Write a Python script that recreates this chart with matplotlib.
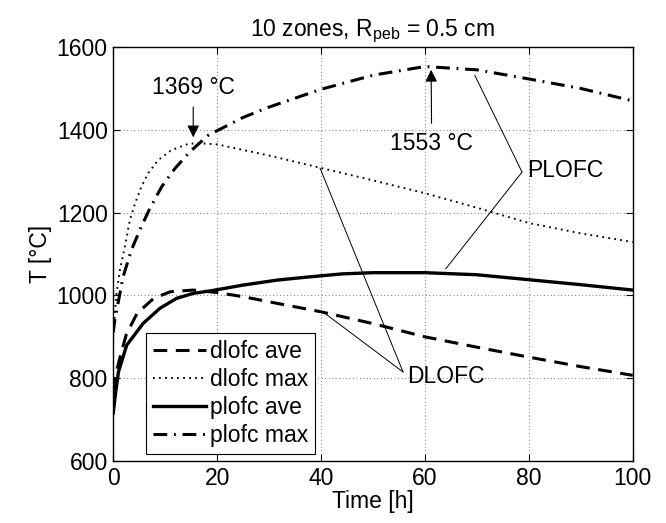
import numpy as np
import matplotlib
matplotlib.use("Agg")
import matplotlib.pyplot as plt

plt.rcParams['font.family'] = ['Liberation Sans', 'DejaVu Sans']
plt.rcParams['mathtext.fontset'] = 'custom'
plt.rcParams['mathtext.rm'] = 'Liberation Sans'
plt.rcParams['font.size'] = 16.5

# dlofc ave (dashed)
t_dave = [0, 0.5, 1.3, 2.5, 4.6, 7.8, 11, 15.4, 20, 25, 31.5, 39.8, 50, 60, 70, 80, 90, 100]
T_dave = [770, 810, 850, 905, 957, 993, 1009, 1013, 1007, 997, 981, 961, 932, 900, 875, 851, 828, 807]

# dlofc max (dotted)
t_dmax = [0, 0.3, 0.64, 1.28, 2.24, 3.2, 4.2, 5.4, 6.7, 8.65, 11.2, 14.4, 16.3, 20, 30, 40, 50, 60, 70, 80, 90, 100]
T_dmax = [900, 955, 1005, 1061, 1118, 1182, 1222, 1262, 1295, 1327, 1351, 1366, 1368, 1365, 1338, 1308, 1278, 1247, 1212, 1175, 1150, 1129]

# plofc ave (solid)
t_pave = [0, 0.45, 1, 2.6, 5.8, 9, 12.2, 15.4, 18.7, 25, 31.5, 37.9, 44, 50, 60, 70, 80, 90, 100]
T_pave = [716, 764, 815, 880, 933, 969, 993, 1005, 1011, 1025, 1037, 1045, 1052, 1055, 1055, 1050, 1038, 1026, 1013]

# plofc max (dash-dot)
t_pmax = [0, 0.3, 1.9, 3.5, 5.4, 7.05, 9.3, 11.9, 14.75, 18.3, 25, 30, 40, 50, 60, 70, 80, 90, 100]
T_pmax = [910, 940, 1045, 1110, 1166, 1210, 1262, 1307, 1347, 1387, 1430, 1455, 1498, 1532, 1553, 1545, 1523, 1500, 1470]

fig = plt.figure(figsize=(6.66, 5.23), dpi=100)
ax = fig.add_axes([0.170, 0.1185, 0.780, 0.7915])

ax.plot(t_dave, T_dave, color='k', lw=2.2, dashes=(4.5, 2.8), label='dlofc ave')
ax.plot(t_dmax, T_dmax, color='k', lw=1.4, dashes=(0.9, 2.2), label='dlofc max')
ax.plot(t_pave, T_pave, color='k', lw=2.4, label='plofc ave')
ax.plot(t_pmax, T_pmax, color='k', lw=2.2, dashes=(4.5, 2.2, 0.6, 2.2), label='plofc max')

ax.set_xlim(0, 100)
ax.set_ylim(600, 1600)
ax.set_xticks([0, 20, 40, 60, 80, 100])
ax.set_yticks([600, 800, 1000, 1200, 1400, 1600])
ax.grid(True, color='k', lw=0.5, linestyle=(0, (1, 4)))
ax.tick_params(direction='in', top=True, right=True, length=5, width=0.8, pad=4)
for s in ax.spines.values():
    s.set_linewidth(1.0)

ax.set_xlabel('Time [h]', labelpad=0)
ax.set_ylabel('T [°C]', labelpad=3)
ax.set_title('10 zones, R$_{\\mathrm{peb}}$ = 0.5 cm', fontsize=16.5, pad=8)

arr = dict(arrowstyle='-|>', color='k', lw=0.8, mutation_scale=18, shrinkA=4, shrinkB=0)
ax.annotate('1369 °C', xy=(15.4, 1382), xytext=(15.4, 1503), ha='center', va='center',
            arrowprops=arr)
ax.annotate('1553 °C', xy=(61.2, 1545), xytext=(61.3, 1368), ha='center', va='center',
            arrowprops=arr)

lead = dict(arrowstyle='-', color='k', lw=0.7, shrinkA=0, shrinkB=0)
ax.annotate('', xy=(69.6, 1532), xytext=(78.7, 1298), arrowprops=lead)
ax.annotate('', xy=(64.0, 1064), xytext=(78.7, 1298), arrowprops=lead)
ax.text(79.6, 1303, 'PLOFC', ha='left', va='center')
ax.annotate('', xy=(39.8, 1308), xytext=(55.8, 815), arrowprops=lead)
ax.annotate('', xy=(40.4, 960), xytext=(55.8, 815), arrowprops=lead)
ax.text(56.5, 803, 'DLOFC', ha='left', va='center')

leg = ax.legend(loc='lower left', bbox_to_anchor=(0.063, 0.017), handlelength=2.3,
                labelspacing=0.22, handletextpad=0.2, borderpad=0.3, borderaxespad=0,
                fancybox=False, framealpha=1, edgecolor='k')
leg.get_frame().set_linewidth(0.8)

fig.savefig('out.png', dpi=100)
